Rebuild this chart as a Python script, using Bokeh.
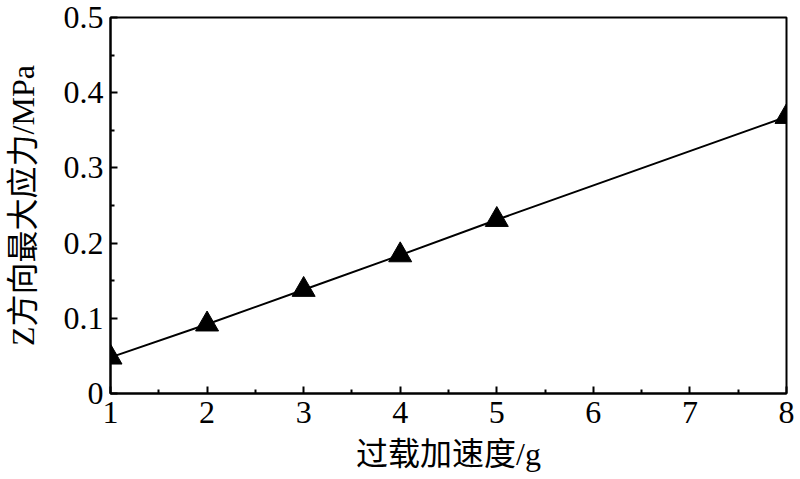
from bokeh.plotting import figure
from bokeh.models import FixedTicker
from bokeh.embed import file_html
from bokeh.resources import INLINE

# data
overload_g = [1, 2, 3, 4, 5, 8]
max_stress_mpa = [0.048, 0.092, 0.138, 0.184, 0.231, 0.368]

x_ticks = [1, 2, 3, 4, 5, 6, 7, 8]
x_minor = [1.5, 2.5, 3.5, 4.5, 5.5, 6.5, 7.5]
y_ticks = [0, 0.1, 0.2, 0.3, 0.4, 0.5]
y_tick_labels = ["0", "0.1", "0.2", "0.3", "0.4", "0.5"]
y_minor = [0.05, 0.15, 0.25, 0.35, 0.45]

x_label = "过载加速度/g"
y_label = "Z方向最大应力/MPa"

FONT = "Liberation Serif, Noto Sans CJK SC"

p = figure(width=796, height=475, output_backend="svg", toolbar_location=None,
           x_range=(1, 8), y_range=(0, 0.5),
           min_border_left=110, min_border_right=10, min_border_top=17, min_border_bottom=82)

p.grid.visible = False
p.outline_line_color = "black"
p.outline_line_width = 2
p.background_fill_color = "white"
p.border_fill_color = "white"

p.line(overload_g, max_stress_mpa, line_color="black", line_width=2)
p.scatter(overload_g, max_stress_mpa, marker="triangle", size=23,
          fill_color="black", line_color="black")

for ax in (p.xaxis[0], p.yaxis[0]):
    ax.axis_line_width = 2
    ax.axis_line_color = "black"
    ax.major_tick_in = 7
    ax.major_tick_out = 0
    ax.minor_tick_in = 4
    ax.minor_tick_out = 0
    ax.major_tick_line_width = 2
    ax.minor_tick_line_width = 2
    ax.major_label_text_font = FONT
    ax.major_label_text_font_size = "32px"
    ax.major_label_text_color = "black"
    ax.axis_label_text_font = FONT
    ax.axis_label_text_font_size = "32px"
    ax.axis_label_text_font_style = "normal"
    ax.axis_label_text_color = "black"

p.xaxis.ticker = FixedTicker(ticks=x_ticks, minor_ticks=x_minor)
p.yaxis.ticker = FixedTicker(ticks=y_ticks, minor_ticks=y_minor)
p.yaxis.major_label_overrides = {t: l for t, l in zip(y_ticks, y_tick_labels)}
p.xaxis.axis_label = x_label
p.yaxis.axis_label = y_label
p.xaxis.major_label_standoff = 8
p.yaxis.major_label_standoff = 7
p.xaxis.axis_label_standoff = 10
p.yaxis.axis_label_standoff = 20

open("out.html", "w").write(file_html(p, INLINE))
